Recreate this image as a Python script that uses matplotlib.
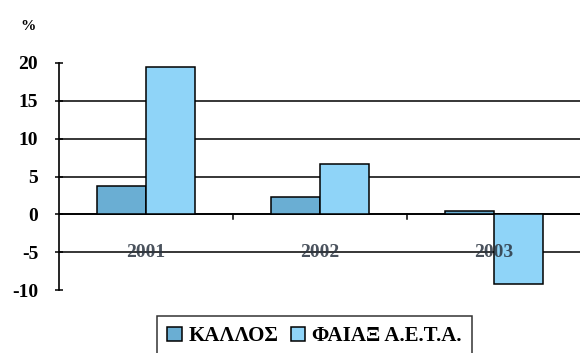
import matplotlib.pyplot as plt
import numpy as np

plt.rcParams['font.family'] = ['Liberation Serif', 'DejaVu Serif']
plt.rcParams['font.weight'] = 'bold'

years = ['2001', '2002', '2003']
kallos = [3.7, 2.3, 0.5]
faiax = [19.5, 6.6, -9.2]
series_names = ['ΚΑΛΛΟΣ', 'ΦΑΙΑΞ Α.Ε.Τ.Α.']
yticks = [-10, -5, 0, 5, 10, 15, 20]

c_kallos = '#6aaed3'
c_faiax = '#8fd4f8'

fig = plt.figure(figsize=(5.8, 3.53), dpi=100)
ax = fig.add_axes([59 / 580, 0.178, 522 / 580, 0.644])

x = np.arange(len(years))
w = 0.28
ax.bar(x - w / 2, kallos, w, color=c_kallos, edgecolor='black', linewidth=1.1,
       label=series_names[0], zorder=3)
ax.bar(x + w / 2, faiax, w, color=c_faiax, edgecolor='black', linewidth=1.1,
       label=series_names[1], zorder=3)

ax.set_xlim(-0.5, len(years) - 0.5)
ax.set_ylim(-10, 20)

# horizontal rules, none at the top and bottom
for v in yticks[1:-1]:
    ax.axhline(v, color='black', linewidth=1.1 if v else 1.4, zorder=2)

# small category ticks hanging from the zero line
for b in x[:-1] + 0.5:
    ax.plot([b, b], [0, -0.6], color='black', linewidth=1.1, zorder=2)

# year labels sit well below the zero line
for xi, yr in zip(x, years):
    ax.text(xi, -5, yr, ha='center', va='center', fontsize=14,
            fontweight='bold', color='#2a3440', alpha=0.85, zorder=4)

for s in ['top', 'right', 'bottom']:
    ax.spines[s].set_visible(False)
ax.spines['left'].set_linewidth(1.2)
ax.set_xticks([])
ax.set_yticks(yticks)
ax.set_yticklabels([str(v) for v in yticks], fontsize=14, fontweight='bold')
ax.tick_params(axis='y', direction='inout', length=6, width=1.1, pad=12)

fig.text(20 / 580, 1 - 30 / 353, '%', fontsize=11)

leg = fig.legend(loc='upper left', bbox_to_anchor=(157 / 580, 1 - 316 / 353),
                 ncol=2, frameon=True, fancybox=False, fontsize=15,
                 handlelength=0.7, handleheight=0.7, handletextpad=0.3,
                 columnspacing=0.6, borderpad=0.5, borderaxespad=0)
leg.get_frame().set_edgecolor('black')
leg.get_frame().set_linewidth(1.1)

fig.savefig('out.png', dpi=100)
